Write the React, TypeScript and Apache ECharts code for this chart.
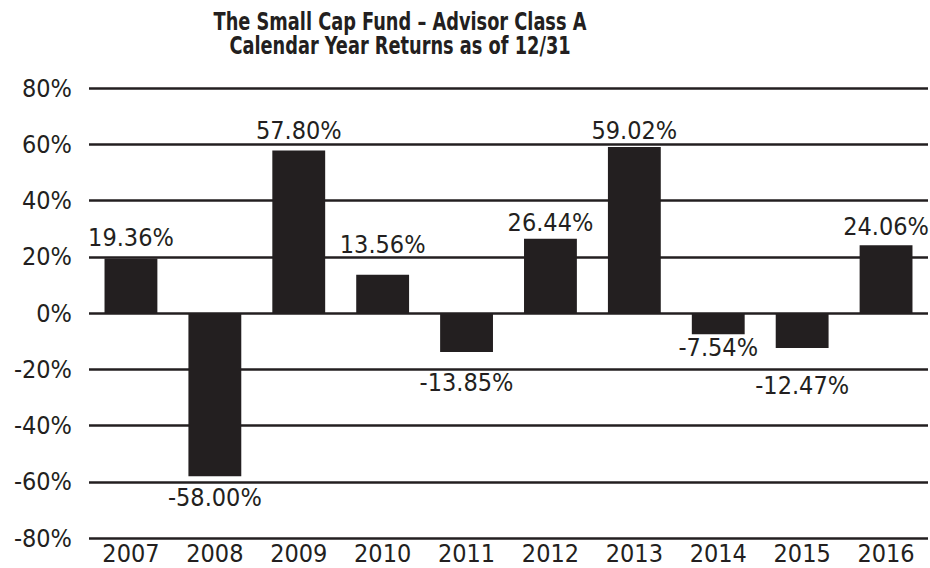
import React, { useEffect, useRef } from "react";
import * as echarts from "echarts";

const years = ["2007", "2008", "2009", "2010", "2011", "2012", "2013", "2014", "2015", "2016"];
const returns = [19.36, -58.0, 57.8, 13.56, -13.85, 26.44, 59.02, -7.54, -12.47, 24.06];
const titleLines = ["The Small Cap Fund – Advisor Class A", "Calendar Year Returns as of 12/31"];
// gap (px) between each bar end and its value label, as laid out in the original
const labelGaps = [9, 9, 7, 18, 18, 4, 4, 1, 25, 6];

const INK = "#231f20";
const FONT = "'Liberation Sans Narrow', 'DejaVu Sans Condensed', sans-serif";

export default function App() {
  const ref = useRef<HTMLDivElement>(null);
  useEffect(() => {
    if (!ref.current) return;
    const chart = echarts.init(ref.current, undefined, { renderer: "svg" });
    chart.setOption({
      animation: false,
      backgroundColor: "#ffffff",
      graphic: [
        {
          type: "text",
          x: 400,
          y: 9,
          scaleX: 0.79,
          style: {
            text: titleLines.join("\n"),
            fontFamily: FONT,
            fontWeight: "bold",
            fontSize: 25,
            lineHeight: 24,
            fill: INK,
            align: "center",
            verticalAlign: "top",
          },
        },
      ],
      grid: { left: 89, right: 2, top: 88, bottom: 30, containLabel: false },
      xAxis: {
        type: "category",
        data: years,
        axisLine: { show: false },
        axisTick: { show: false },
        axisLabel: {
          fontFamily: FONT,
          fontSize: 25,
          lineHeight: 25,
          color: INK,
          margin: 3,
          interval: 0,
        },
      },
      yAxis: {
        type: "value",
        min: -80,
        max: 80,
        interval: 20,
        axisLine: { show: false },
        axisTick: { show: false },
        splitLine: { lineStyle: { color: INK, width: 2.5 } },
        axisLabel: {
          fontFamily: FONT,
          fontSize: 25,
          color: INK,
          margin: 17,
          formatter: (v: number) => `${v}%`,
        },
      },
      series: [
        {
          type: "bar",
          barWidth: "63%",
          itemStyle: { color: INK },
          data: returns.map((v, i) => ({
            value: v,
            label: {
              show: true,
              position: v >= 0 ? "top" : "bottom",
              distance: labelGaps[i],
              fontFamily: FONT,
              fontSize: 25,
              color: INK,
              formatter: `${v.toFixed(2)}%`,
            },
          })),
        },
      ],
    });
    return () => chart.dispose();
  }, []);
  return (
    <div
      ref={ref}
      style={{ position: "fixed", left: 0, top: 0, width: 930, height: 568 }}
    />
  );
}
